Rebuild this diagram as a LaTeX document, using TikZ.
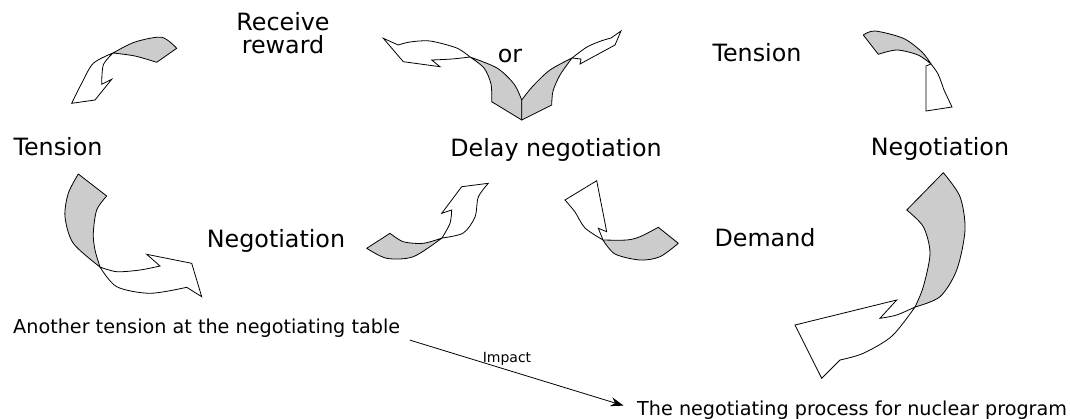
\documentclass[tikz,border=0pt]{standalone}
\usepackage{fontspec}
\setmainfont{DejaVu Sans}
\usetikzlibrary{arrows.meta}
\definecolor{shadegray}{RGB}{204,204,204}
\begin{document}
\begin{tikzpicture}[x=1pt,y=-1pt,
  back/.style={draw=black, fill=shadegray, line width=0.8pt, line join=round},
  front/.style={draw=black, fill=white, line width=0.8pt, line join=miter},
  big/.style={font=\fontsize{23.8}{23}\selectfont, inner sep=0pt, text=black},
  small/.style={font=\fontsize{19.2}{22}\selectfont, inner sep=0pt, text=black},
  tiny/.style={font=\fontsize{14}{16}\selectfont, inner sep=0pt, text=black}]
\useasboundingbox (0,0) rectangle (1070,418);

% ---------- labels ----------
\node[big, anchor=base, align=center] (receive) at (283,53) {Receive\\reward};
\node[big, anchor=base] (or) at (510,62) {or};
\node[big, anchor=base] (tensionR) at (757,61) {Tension};
\node[big, anchor=base] (tensionL) at (58,155) {Tension};
\node[big, anchor=base] (delay) at (556,156) {Delay negotiation};
\node[big, anchor=base] (negR) at (940,155) {Negotiation};
\node[big, anchor=base] (negM) at (276,247) {Negotiation};
\node[big, anchor=base] (demand) at (765,246) {Demand};
\node[small, anchor=base west] (another) at (13,333) {Another tension at the negotiating table};
\node[tiny, anchor=base] (impact) at (507,362) {Impact};
\node[small, anchor=base west] (process) at (637,415) {The negotiating process for nuclear program};

\draw[line width=0.8pt, -{Stealth[length=13pt,width=9pt]}, shorten <=10pt, shorten >=14pt]
  (another.south east) -- (process.west);

% ---------- arrow 1 (top left) ----------
\path[back] (113,53) --plot[smooth] coordinates {(113,53) (135,42) (161.7,37.3) (176.7,48.3)}
  -- (156.7,62.3) --plot[smooth] coordinates {(156.7,62.3) (135,56) (113,53)} -- cycle;
\path[front] (113,53) --plot[smooth] coordinates {(113,53) (93.3,63.3) (81.7,83.3) (71.7,103.3)}
  -- (95,100) -- (111.7,79.3) -- (101.7,84.3)
  --plot[smooth] coordinates {(101.7,84.3) (103.3,65) (113,53)} -- cycle;

% ---------- arrow 2 ("or" pair) ----------
\path[back] (470,57) --plot[smooth] coordinates {(470,57) (484,68) (491,84) (491.7,101.7)}
  -- (521.7,120) -- (521.7,100)
  --plot[smooth] coordinates {(521.7,100) (514,84) (497,68) (470,57)} -- cycle;
\path[back] (521.7,120) -- (521.7,100)
  --plot[smooth] coordinates {(521.7,100) (533,86) (550,70) (572,58)}
  --plot[smooth] coordinates {(572,58) (560,75) (553,91) (551.7,105)} -- cycle;
\path[front] (470,57) --plot[smooth] coordinates {(470,57) (456.7,48) (430,41) (410,42) (398.3,45)}
  -- (383.3,38.3) -- (403.3,61.7) -- (440,66.7) -- (431.7,60)
  --plot[smooth] coordinates {(431.7,60) (452,59) (470,57)} -- cycle;
\path[front] (572,58) --plot[smooth] coordinates {(572,58) (587,47) (601,41) (611,38)}
  -- (621,31) -- (615,45) -- (580,64) -- (581,59) -- cycle;

% ---------- arrow 3 (top right) ----------
\path[back] (863.3,35) --plot[smooth] coordinates {(863.3,35) (875,31) (903.3,38.3) (922,52) (931,64)}
  --plot[smooth] coordinates {(931,64) (918,55) (897,50) (878.3,54.3)} -- cycle;
\path[front] (931,64) -- (926,66) -- (926,111) -- (952,107) -- (944,90)
  --plot[smooth] coordinates {(944,90) (938,74) (931,64)} -- cycle;

% ---------- arrow 4 (bottom left) ----------
\path[back] (78.3,174) --plot[smooth] coordinates {(78.3,174) (68.3,193.3) (65,216.7) (73.3,243.3) (100,267)}
  --plot[smooth] coordinates {(100,267) (95,250) (93.3,233.3) (96.7,210) (106.7,196)} -- cycle;
\path[front] (100,267) --plot[smooth] coordinates {(100,267) (116.7,271.7) (140,270) (160,266)}
  -- (146.7,254.3) -- (191.7,263.3) -- (201.7,296.7) -- (186.7,287.3)
  --plot[smooth] coordinates {(186.7,287.3) (150,293.3) (116.7,286.7) (100,267)} -- cycle;

% ---------- arrow 5 (middle, left of centre) ----------
\path[back] (366.7,248.3) -- (390,233.3)
  --plot[smooth] coordinates {(390,233.3) (403.3,241.7) (423.3,243.3) (442,238)}
  --plot[smooth] coordinates {(442,238) (413.3,256.7) (386.7,258.3) (366.7,248.3)} -- cycle;
\path[front] (442,238) --plot[smooth] coordinates {(442,238) (463.3,233) (475,217) (478.3,197) (488.3,183.3)}
  -- (461.7,186.7) -- (441.7,213.3) -- (451.7,210)
  --plot[smooth] coordinates {(451.7,210) (450,223.3) (442,238)} -- cycle;

% ---------- arrow 6 (middle, right of centre) ----------
\path[back] (603,240) --plot[smooth] coordinates {(603,240) (626.7,240) (640,236.7) (658.3,227.3)}
  -- (678.3,243.3)
  --plot[smooth] coordinates {(678.3,243.3) (660,256.7) (640,260) (615,254) (603,240)} -- cycle;
\path[front] (603,240) --plot[smooth] coordinates {(603,240) (585,228) (575,212) (565,200)}
  -- (596.7,180.7) -- (606.7,231.7) -- (598.3,228.3) -- cycle;

% ---------- arrow 7 (big, right) ----------
\path[back] (906.7,210) -- (943.3,172.7)
  --plot[smooth] coordinates {(943.3,172.7) (960,196.7) (965,230) (956.7,270) (940,296.7) (915,307)}
  --plot[smooth] coordinates {(915,307) (923.3,286.7) (930,253.3) (923.3,226.7) (906.7,210)} -- cycle;
\path[front] (915,307) --plot[smooth] coordinates {(915,307) (896.7,315) (880,318.3)}
  -- (896.7,300) -- (795,325) -- (821.7,378.3) -- (840,360)
  --plot[smooth] coordinates {(840,360) (863.3,353.3) (892,336) (915,307)} -- cycle;
\end{tikzpicture}
\end{document}
